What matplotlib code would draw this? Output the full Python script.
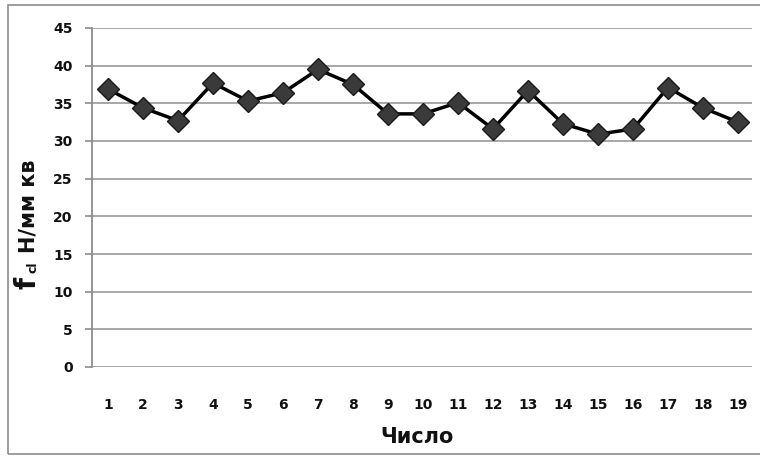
import matplotlib
matplotlib.use("Agg")
import matplotlib.pyplot as plt
from matplotlib.patches import Rectangle
from matplotlib import font_manager

days = list(range(1, 20))
values = [36.9, 34.4, 32.7, 37.7, 35.3, 36.4, 39.5, 37.5, 33.6, 33.6,
          35.1, 31.6, 36.7, 32.3, 30.9, 31.6, 37.1, 34.4, 32.5]
yticks = [0, 5, 10, 15, 20, 25, 30, 35, 40, 45]
xlabel = "Число"
ylabel_f = "f"
ylabel_sub = "cl"
ylabel_rest = "Н/мм кв"

names = {f.name for f in font_manager.fontManager.ttflist}
narrow = ["Liberation Sans Narrow", "DejaVu Sans"] if "Liberation Sans Narrow" in names else ["DejaVu Sans"]
print(narrow)

W, H = 760, 459
fig = plt.figure(figsize=(W / 100, H / 100), dpi=100)
fig.patch.set_facecolor("white")

# outer chart border (cropped on the right in the reference)
fig.add_artist(Rectangle((8 / W, (H - 454) / H), (W + 10 - 8) / W, (454 - 5) / H,
                         transform=fig.transFigure, fill=False,
                         edgecolor="#8c8c8c", linewidth=1.2))

left, right, top, bottom = 92, 752, 28, 367
ax = fig.add_axes([left / W, (H - bottom) / H, (right - left) / W, (bottom - top) / H])

ax.plot(days, values, color="black", linewidth=2.5, marker="D", markersize=11,
        markerfacecolor="#3a3a3a", markeredgecolor="#1a1a1a", markeredgewidth=1.0,
        zorder=3, clip_on=False)

ax.set_xlim(0.543, 19.4)
ax.set_ylim(0, 45)
ax.set_yticks(yticks)
ax.set_xticks(days)
ax.yaxis.grid(True, color="#a0a0a0", linewidth=1.3)
ax.set_axisbelow(True)

for s in ["top", "right", "bottom"]:
    ax.spines[s].set_visible(False)
ax.spines["left"].set_color("#8c8c8c")
ax.spines["left"].set_linewidth(1.3)

ax.tick_params(axis="y", length=5, width=1.2, color="#8c8c8c", pad=9,
               labelsize=10)
ax.tick_params(axis="x", length=0, pad=22, labelsize=10)
for lab in ax.get_xticklabels() + ax.get_yticklabels():
    lab.set_fontweight("bold")
    lab.set_color("#111111")

fig.text(417 / W, (H - 437) / H, xlabel, ha="center", va="center",
         fontsize=15, fontweight="bold", color="#111111", family=narrow)
fig.text(27 / W, (H - 283) / H, ylabel_f, rotation=90, ha="center", va="center",
         fontsize=20, fontweight="bold", color="#111111", family=narrow)
fig.text(33 / W, (H - 267) / H, ylabel_sub, rotation=90, ha="center", va="center",
         fontsize=9, fontweight="bold", color="#111111", family=narrow)
fig.text(29 / W, (H - 206) / H, ylabel_rest, rotation=90, ha="center", va="center",
         fontsize=15, fontweight="bold", color="#111111", family=narrow)

fig.savefig("out.png", dpi=100)
